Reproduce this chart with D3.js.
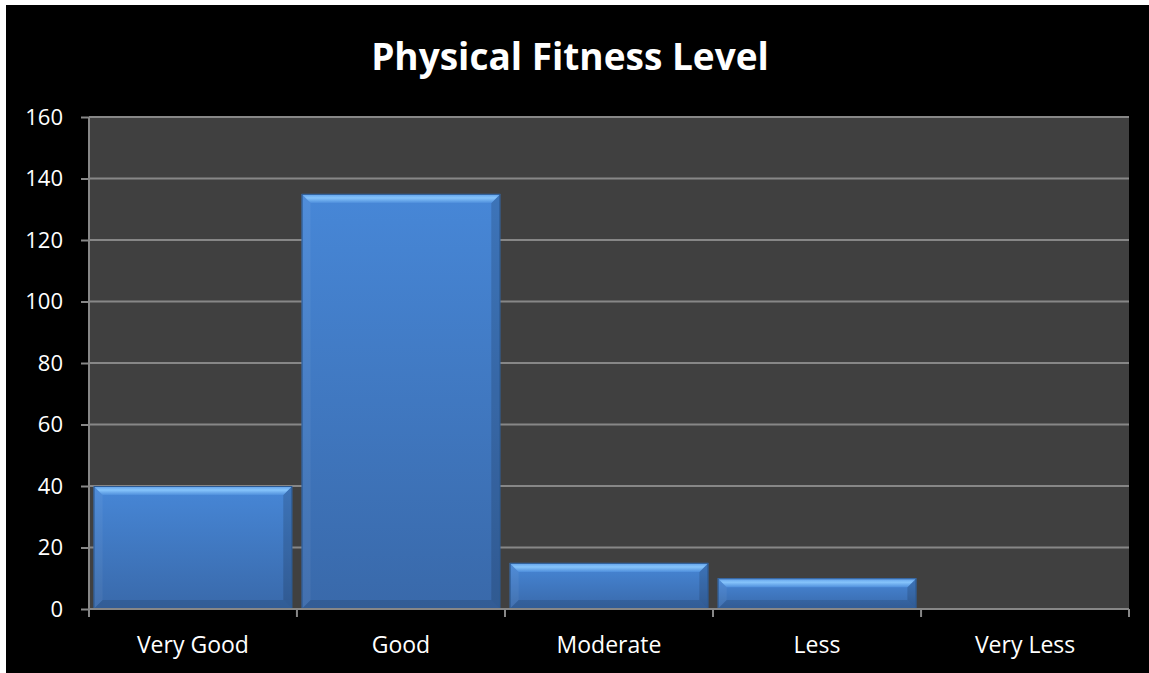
<!DOCTYPE html>
<html>
<head>
<meta charset="utf-8">
<script src="https://cdn.jsdelivr.net/npm/d3@7"></script>
<style>
  html, body { margin: 0; padding: 0; background: #ffffff; }
  svg { display: block; }
</style>
</head>
<body>
<svg id="chart" width="1149" height="673"></svg>
<script>
// data
const categories = ["Very Good", "Good", "Moderate", "Less", "Very Less"];
const values = [40, 135, 15, 10, 0];
const yTicks = [0, 20, 40, 60, 80, 100, 120, 140, 160];
const chartTitle = "Physical Fitness Level";

const svg = d3.select("#chart");
const width = +svg.attr("width");
const height = +svg.attr("height");
const margin = { top: 117, right: 20, bottom: 64, left: 89 };
const plotW = width - margin.left - margin.right;
const plotH = height - margin.top - margin.bottom;
const font = "'Open Sans', 'Noto Sans', sans-serif";

// outer black chart area
svg.append("rect")
    .attr("x", 6).attr("y", 5)
    .attr("width", width - 6).attr("height", height - 5)
    .attr("fill", "#000000");

const defs = svg.append("defs");
const body = defs.append("linearGradient").attr("id", "barBody")
    .attr("x1", 0).attr("y1", 0).attr("x2", 0).attr("y2", 1);
body.append("stop").attr("offset", "0%").attr("stop-color", "#4787d7");
body.append("stop").attr("offset", "100%").attr("stop-color", "#3969aa");

const topBevel = defs.append("linearGradient").attr("id", "topBevel")
    .attr("x1", 0).attr("y1", 0).attr("x2", 0).attr("y2", 1);
topBevel.append("stop").attr("offset", "0%").attr("stop-color", "#5d9de8");
topBevel.append("stop").attr("offset", "45%").attr("stop-color", "#86c4fb");
topBevel.append("stop").attr("offset", "100%").attr("stop-color", "#4f8fdc");

const g = svg.append("g").attr("transform", `translate(${margin.left}, ${margin.top})`);

const x = d3.scaleBand()
    .domain(categories)
    .range([0, plotW])
    .paddingInner(0.045)
    .paddingOuter(0.022);

const y = d3.scaleLinear()
    .domain([0, 160])
    .range([plotH, 0]);

// plot area
g.append("rect")
    .attr("width", plotW).attr("height", plotH)
    .attr("fill", "#404040");

// gridlines
g.selectAll(".grid")
    .data(yTicks.filter(d => d > 0))
    .enter().append("line")
    .attr("class", "grid")
    .attr("x1", 0).attr("x2", plotW)
    .attr("y1", d => y(d)).attr("y2", d => y(d))
    .attr("stroke", "#878787")
    .attr("stroke-width", 2);

// bars
const b = 9;
const bars = g.selectAll(".bar")
    .data(values.map((v, i) => ({ cat: categories[i], v })).filter(d => d.v > 0))
    .enter().append("g")
    .attr("class", "bar");

bars.append("rect")
    .attr("x", d => x(d.cat))
    .attr("y", d => y(d.v))
    .attr("width", x.bandwidth())
    .attr("height", d => plotH - y(d.v))
    .attr("fill", "url(#barBody)");

function bevel(d, side) {
    const x0 = x(d.cat), x1 = x0 + x.bandwidth();
    const y0 = y(d.v), y1 = plotH;
    const k = Math.min(b, (y1 - y0) / 2);
    if (side === "top") return [[x0, y0], [x1, y0], [x1 - k, y0 + k], [x0 + k, y0 + k]];
    if (side === "left") return [[x0, y0], [x0 + k, y0 + k], [x0 + k, y1 - k], [x0, y1]];
    if (side === "right") return [[x1, y0], [x1, y1], [x1 - k, y1 - k], [x1 - k, y0 + k]];
    return [[x0, y1], [x0 + k, y1 - k], [x1 - k, y1 - k], [x1, y1]];
}
const line = d3.line();

bars.append("path").attr("d", d => line(bevel(d, "left")) + "Z")
    .attr("fill", "#ffffff").attr("fill-opacity", 0.05);
bars.append("path").attr("d", d => line(bevel(d, "right")) + "Z")
    .attr("fill", "#000000").attr("fill-opacity", 0.14);
bars.append("path").attr("d", d => line(bevel(d, "bottom")) + "Z")
    .attr("fill", "#000000").attr("fill-opacity", 0.12);
bars.append("path").attr("d", d => line(bevel(d, "top")) + "Z")
    .attr("fill", "url(#topBevel)");

bars.append("rect")
    .attr("x", d => x(d.cat) + 0.5)
    .attr("y", d => y(d.v) + 0.5)
    .attr("width", x.bandwidth() - 1)
    .attr("height", d => plotH - y(d.v) - 1)
    .attr("fill", "none")
    .attr("stroke", "#2d5a92")
    .attr("stroke-width", 1);

// y axis
const yAxis = g.append("g").call(
    d3.axisLeft(y).tickValues(yTicks).tickSize(8).tickPadding(18)
);
yAxis.select(".domain").attr("stroke", "#878787").attr("stroke-width", 2)
    .attr("d", `M0,0V${plotH}`);
yAxis.selectAll(".tick line").attr("stroke", "#878787").attr("stroke-width", 2);
yAxis.selectAll(".tick text")
    .attr("fill", "#ffffff")
    .style("font-family", font)
    .style("font-size", "22px");

// x axis
const xAxisG = g.append("g").attr("transform", `translate(0, ${plotH})`);
xAxisG.append("line")
    .attr("x1", 0).attr("x2", plotW)
    .attr("stroke", "#878787").attr("stroke-width", 2);
const step = x.step();
const boundaries = d3.range(categories.length + 1).map(i => x(categories[0]) - x.paddingInner() * step / 2 + i * step);
xAxisG.selectAll(".xtick")
    .data(boundaries)
    .enter().append("line")
    .attr("x1", d => Math.max(0, Math.min(plotW, d)))
    .attr("x2", d => Math.max(0, Math.min(plotW, d)))
    .attr("y1", 0).attr("y2", 8)
    .attr("stroke", "#878787").attr("stroke-width", 2);
xAxisG.selectAll(".xlabel")
    .data(categories)
    .enter().append("text")
    .attr("x", d => x(d) + x.bandwidth() / 2)
    .attr("y", 44)
    .attr("text-anchor", "middle")
    .attr("fill", "#ffffff")
    .style("font-family", font)
    .style("font-size", "23px")
    .text(d => d);

// title
svg.append("text")
    .attr("x", 570)
    .attr("y", 70)
    .attr("text-anchor", "middle")
    .attr("fill", "#ffffff")
    .style("font-family", font)
    .style("font-weight", "bold")
    .style("font-size", "37px")
    .text(chartTitle);
</script>
</body>
</html>
